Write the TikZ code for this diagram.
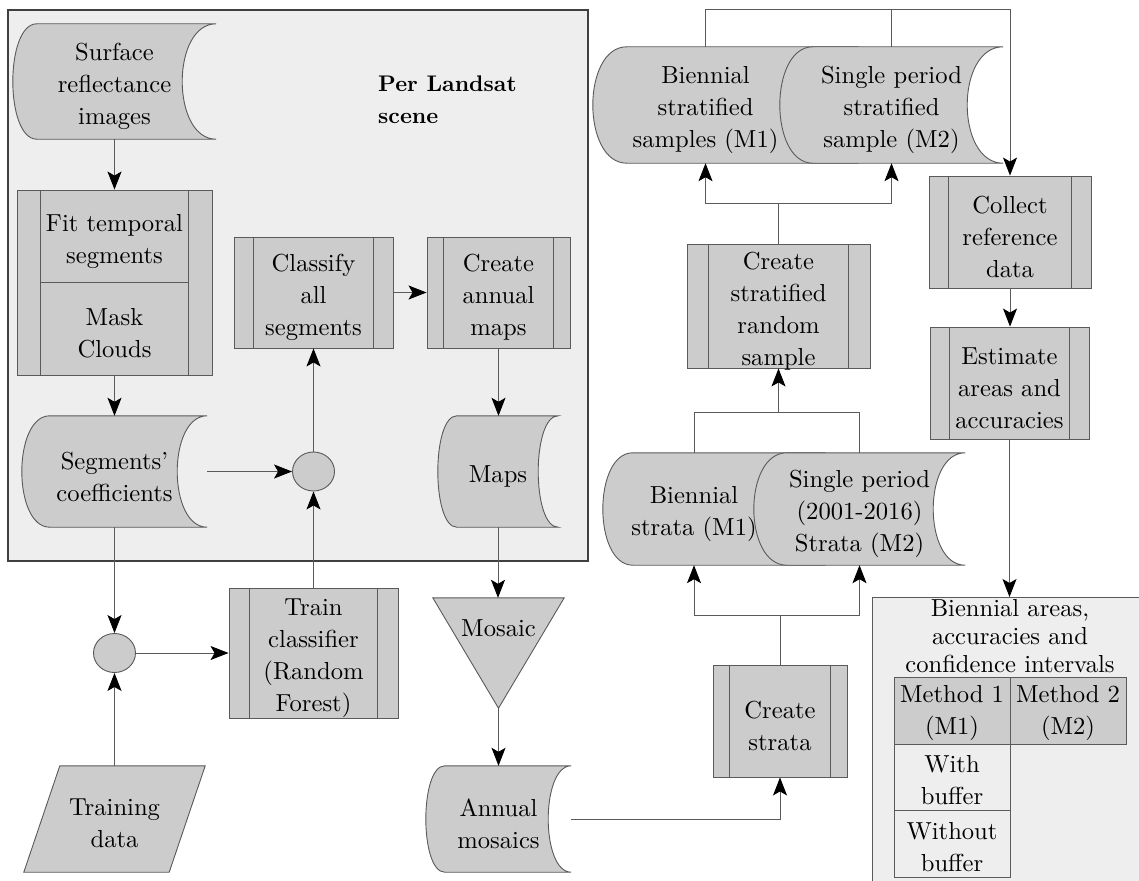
\documentclass[tikz,border=0pt]{standalone}
\usetikzlibrary{arrows.meta, shapes.geometric, backgrounds}
% Latin Modern, dessin de 10 pt à toutes les tailles
\DeclareFontFamily{TU}{lmx}{}
\DeclareFontShape{TU}{lmx}{m}{n}{<-> "[lmroman10-regular]:+tlig;"}{}
\DeclareFontShape{TU}{lmx}{bx}{n}{<-> "[lmroman10-bold]:+tlig;"}{}

\definecolor{gris}{HTML}{CCCCCC}
\definecolor{fond}{HTML}{EEEEEE}
\definecolor{trait}{HTML}{5A5A5A}

\tikzset{
  texte/.style={align=center, inner sep=0pt, font=\fontfamily{lmx}\fontsize{24.6}{32}\selectfont},
  proc/.style={texte, draw=trait, fill=gris, line width=0.9pt},
  forme/.style={draw=trait, fill=gris, line width=0.9pt},
  rond/.style={ellipse, draw=trait, fill=gris, line width=0.9pt, minimum width=42, minimum height=39, inner sep=0pt},
  fil/.style={draw=trait, line width=0.9pt},
  fleche/.style={fil, -{Stealth[length=18pt, width=14pt, inset=4pt, color=black]}},
  cadre/.style={draw=black!75, fill=fond, line width=1.2pt},
  panneau/.style={draw=trait, fill=fond, line width=0.9pt},
  cellule/.style={draw=trait, line width=0.9pt, minimum width=116, minimum height=67, inner sep=0pt},
}

% Données stockées : nom, bombé à gauche, creux à droite
\newcommand{\stocke}[3]{%
  \begin{pgfonlayer}{background}
    \draw[forme] ([xshift=#2]#1.north west) -- (#1.north east)
      .. controls ([xshift=-4*#3/3]#1.north east) and ([xshift=-4*#3/3]#1.south east) .. (#1.south east)
      -- ([xshift=#2]#1.south west)
      .. controls ([xshift=-#2/3]#1.south west) and ([xshift=-#2/3]#1.north west) .. cycle;
  \end{pgfonlayer}}
% Même forme, bord droit caché sous la voisine
\newcommand{\stockeg}[3]{%
  \begin{pgfonlayer}{background}
    \draw[forme] ([xshift=#2]#1.north west) -- ([xshift=#3]#1.north east)
      -- ([xshift=#3]#1.south east) -- ([xshift=#2]#1.south west)
      .. controls ([xshift=-#2/3]#1.south west) and ([xshift=-#2/3]#1.north west) .. cycle;
  \end{pgfonlayer}}

\begin{document}
\begin{tikzpicture}[x=1pt, y=-1pt]
\useasboundingbox (0,0) rectangle (1139,880);

% Cadre de la scène Landsat
\begin{pgfonlayer}{background}
  \node[cadre, minimum width=580, minimum height=551] (scene) at (298,285.5) {};
\end{pgfonlayer}
\node[texte, align=left, anchor=west, font=\fontfamily{lmx}\fontsize{22.6}{32}\selectfont\bfseries] (titre) at (378,100) {Per Landsat\\scene};

% Données stockées (forme en arrière-plan, texte à part)
\foreach \nom/\x/\y/\w/\h/\txt in {
  surface/114.5/81.5/203/115/{Surface\\reflectance\\images},
  coefs/114.5/471.5/185/111/{Segments’\\coefficients},
  cartes/498/471.5/120/111/{Maps},
  mosann/498.5/819/145/106/{Annual\\mosaics},
  echant1/705.5/105/225/116/{Biennial\\stratified\\samples (M1)},
  echant2/891.5/105/223/116/{Single period\\stratified\\sample (M2)},
  strat1/694/509/182/112/{Biennial\\strata (M1)},
  strat2/859.5/509/211/112/{Single period\\(2001-2016)\\Strata (M2)}}{
    \node[minimum width=\w, minimum height=\h, inner sep=0pt] (\nom) at (\x,\y) {};
    \node[texte] (\nom-t) at ([yshift=-5]\nom.center) {\txt};
}
\stockeg{echant1}{34}{40}
\stockeg{strat1}{30}{40}
\foreach \nom/\bombe/\creux in {surface/24/34, coefs/28/30, cartes/19/20, mosann/19/23, echant2/33/36, strat2/33/32}{
    \stocke{\nom}{\bombe}{\creux}
}

% Processus prédéfinis
\foreach \nom/\x/\y/\w/\h/\d/\txt in {
  classer/313.5/292.5/159/111/20/{Classify\\all\\segments},
  cartesan/498.5/292.5/143/111/17/{Create\\annual\\maps},
  entrainer/313.5/653/169/130/21/{Train\\classifier\\(Random\\Forest)},
  strates/780/721/134/112/17/{Create\\strata},
  tirage/778.5/306/183/124/22/{Create\\stratified\\random\\sample},
  collecte/1010/232/162/112/20/{Collect\\reference\\data},
  estime/1009.5/383/159/112/20/{Estimate\\areas and\\accuracies}}{
    \node[proc, minimum width=\w, minimum height=\h] (\nom) at (\x,\y) {};
    \node[texte] (\nom-t) at ([yshift=-5]\nom.center) {\txt};
    \draw[fil] ([xshift=\d]\nom.north west) -- ([xshift=\d]\nom.south west)
               ([xshift=-\d]\nom.north east) -- ([xshift=-\d]\nom.south east);
}

% Boîte double : ajustement et masque
\node[proc, minimum width=195, minimum height=185] (ajuste) at (114.5,282.5) {};
\draw[fil] ([xshift=24]ajuste.north west) -- ([xshift=24]ajuste.south west)
           ([xshift=-24]ajuste.north east) -- ([xshift=-24]ajuste.south east)
           ([xshift=24]ajuste.west) -- ([xshift=-24]ajuste.east);
\node[texte] (ajuste-a) at (114.5,241) {Fit temporal\\segments};
\node[texte] (ajuste-b) at (114.5,333) {Mask\\Clouds};

% Jonctions
\node[rond] (jonc1) at (313.5,471.5) {};
\node[rond] (jonc2) at (114.5,653) {};

% Données d'entraînement
\node[minimum width=145, minimum height=106, inner sep=0pt] (donnees) at (114.5,819) {};
\node[texte] (donnees-t) at (114.5,823) {Training\\data};
\begin{pgfonlayer}{background}
  \draw[forme] ([xshift=18]donnees.north west) -- ([xshift=18]donnees.north east)
    -- ([xshift=-18]donnees.south east) -- ([xshift=-18]donnees.south west) -- cycle;
\end{pgfonlayer}

% Mosaïque
\node[minimum width=131, minimum height=110, inner sep=0pt] (mosaique) at (498.5,653) {};
\begin{pgfonlayer}{background}
  \draw[forme] (mosaique.north west) -- (mosaique.north east) -- (mosaique.south) -- cycle;
\end{pgfonlayer}
\node[texte] (mosaique-t) at ([yshift=-30]mosaique.north) {Mosaic};

% Résultats
\node[panneau, minimum width=276, minimum height=300, anchor=north west] (resultats) at (872,597) {};
\node[texte, font=\fontfamily{lmx}\fontsize{24.6}{28}\selectfont] (resultats-t) at (1010,636) {Biennial areas,\\accuracies and\\confidence intervals};
\foreach \nom/\x/\y/\couleur/\txt in {
  m1/952/710.5/gris/{Method 1\\(M1)},
  m2/1068/710.5/gris/{Method 2\\(M2)},
  avec/952/777.5/fond/{With\\buffer},
  sans/952/844/fond/{Without\\buffer}}{
    \node[cellule, fill=\couleur] (\nom) at (\x,\y) {};
    \node[texte] (\nom-t) at ([yshift=-3]\nom.center) {\txt};
}

% Liaisons
\draw[fleche] (surface.south) -- (ajuste.north);
\draw[fleche] (ajuste.south) -- (coefs.north);
\draw[fleche] (coefs.east) -- (jonc1.west);
\draw[fleche] (coefs.south) -- (jonc2.north);
\draw[fleche] (donnees.north) -- (jonc2.south);
\draw[fleche] (jonc2.east) -- (entrainer.west);
\draw[fleche] (entrainer.north) -- (jonc1.south);
\draw[fleche] (jonc1.north) -- (classer.south);
\draw[fleche] (classer.east) -- (cartesan.west);
\draw[fleche] (cartesan.south) -- (cartesan.south |- cartes.north);
\draw[fleche] (cartes.south) -- (cartes.south |- mosaique.north);
\draw[fleche] (mosaique.south) -- (mosaique.south |- mosann.north);
\draw[fleche] (mosann.east) -| (strates.south);

% Fourches
\coordinate (rang1) at (0,9);
\coordinate (rang2) at (0,203);
\coordinate (rang3) at (0,412);
\coordinate (rang4) at (0,615);
\draw[fil] (strates.north) -- (strates.north |- rang4);
\draw[fleche] (strates.north |- rang4) -| (strat1.south);
\draw[fleche] (strates.north |- rang4) -| (strat2.south);
\draw[fil] (strat1.north) |- (rang3 -| strat2.north) -- (strat2.north);
\draw[fleche] (tirage.south |- rang3) -- (tirage.south);
\draw[fil] (tirage.north) -- (tirage.north |- rang2);
\draw[fleche] (tirage.north |- rang2) -| (echant1.south);
\draw[fleche] (tirage.north |- rang2) -| (echant2.south);
\draw[fil] (echant1.north) |- (rang1 -| collecte.north);
\draw[fil] (echant2.north) -- (echant2.north |- rang1);
\draw[fleche] (rang1 -| collecte.north) -- (collecte.north);
\draw[fleche] (collecte.south) -- (collecte.south |- estime.north);
\draw[fleche] (estime.south) -- (estime.south |- resultats.north);
\end{tikzpicture}
\end{document}
